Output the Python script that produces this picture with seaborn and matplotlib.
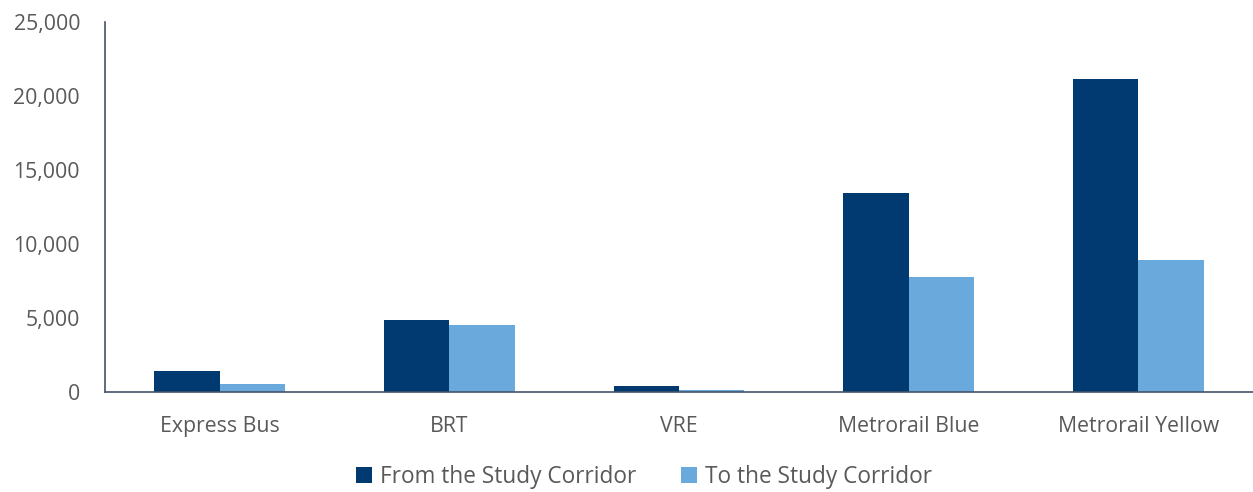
import matplotlib
matplotlib.use("Agg")
import matplotlib.pyplot as plt
import pandas as pd
import seaborn as sns
from matplotlib.ticker import FuncFormatter

categories = ["Express Bus", "BRT", "VRE", "Metrorail Blue", "Metrorail Yellow"]
from_corridor = [1400, 4890, 430, 13440, 21180]
to_corridor = [520, 4530, 115, 7770, 8920]
series_names = ["From the Study Corridor", "To the Study Corridor"]

df = pd.DataFrame({
    "mode": categories * 2,
    "series": [series_names[0]] * len(categories) + [series_names[1]] * len(categories),
    "value": from_corridor + to_corridor,
})

sns.set_style("white")
plt.rcParams["font.family"] = ["Open Sans", "DejaVu Sans"]

fig = plt.figure(figsize=(12.53, 4.92), dpi=100)
ax = fig.add_axes([0.0838, 0.203, 0.9162, 0.752])

sns.barplot(data=df, x="mode", y="value", hue="series",
            palette=["#003A70", "#6AA9DB"], width=0.57, saturation=1,
            linewidth=0, ax=ax)

ax.set_ylim(0, 25000)
ax.set_xlim(-0.5, 4.5)
ax.set_yticks(range(0, 25001, 5000))
ax.yaxis.set_major_formatter(FuncFormatter(lambda v, _: f"{int(v):,}"))
ax.set_xlabel("")
ax.set_ylabel("")
ax.tick_params(axis="both", length=0, labelsize=15.3, colors="#595959")
ax.tick_params(axis="y", pad=18)
ax.tick_params(axis="x", pad=17)

for side in ["top", "right"]:
    ax.spines[side].set_visible(False)
for side in ["left", "bottom"]:
    ax.spines[side].set_color("#44546A")
    ax.spines[side].set_linewidth(1.2)

ax.legend(loc="center", bbox_to_anchor=(0.514, 0.03),
          bbox_transform=fig.transFigure, ncol=2,
          frameon=False, fontsize=16.3, handlelength=0.7, handleheight=0.7,
          handletextpad=0.35, columnspacing=2.0, labelcolor="#595959",
          borderpad=0)

fig.savefig("out.png", dpi=100)
